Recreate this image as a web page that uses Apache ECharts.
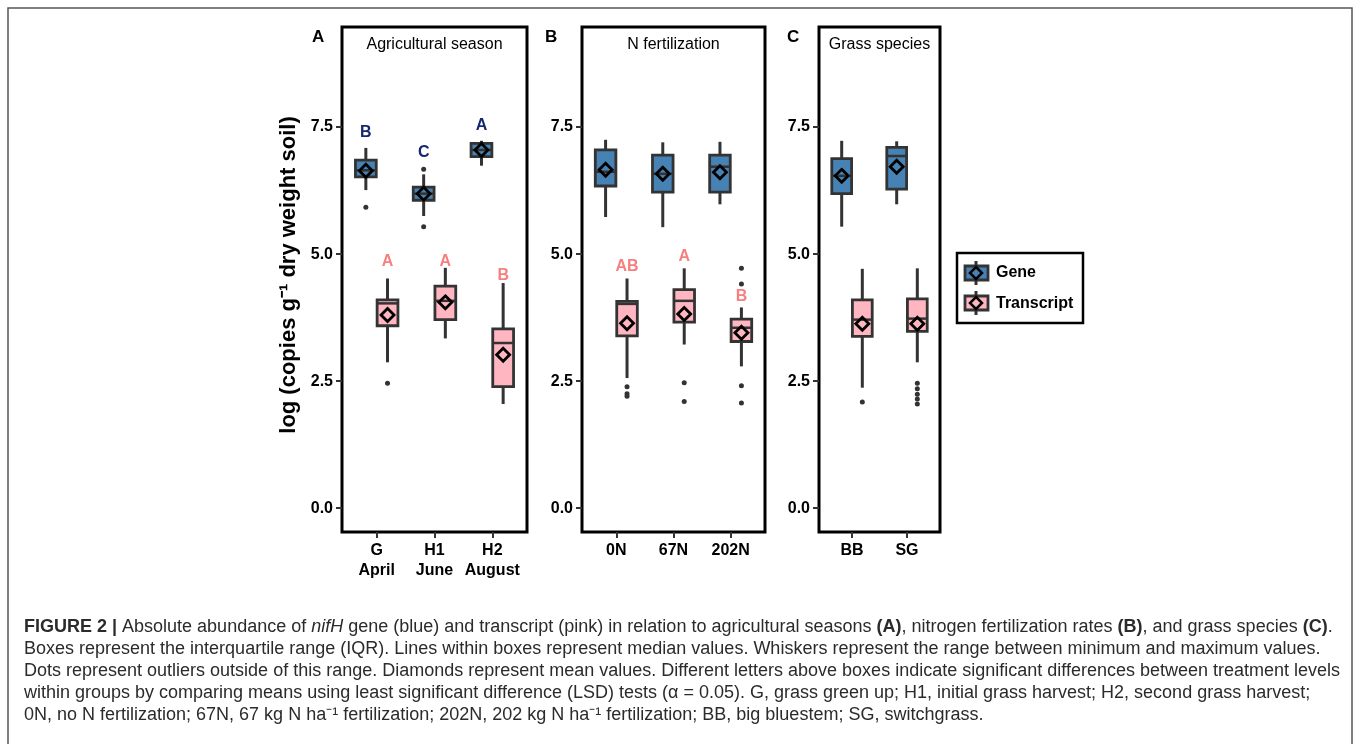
<!DOCTYPE html>
<html>
<head>
<meta charset="utf-8">
<script src="https://cdn.jsdelivr.net/npm/echarts@6/dist/echarts.min.js"></script>
<style>
  html, body { margin: 0; padding: 0; background: #fff; }
  #chart { width: 1358px; height: 744px; }
</style>
</head>
<body>
<div id="chart"></div>
<script>
// ---- data ----------------------------------------------------------------
// box rows: [lower whisker, Q1, median, Q3, upper whisker]
const seasonCats = ["G\nApril", "H1\nJune", "H2\nAugust"];
const seasonGene = [[6.26, 6.52, 6.65, 6.85, 7.09], [5.75, 6.06, 6.19, 6.32, 6.57], [6.74, 6.92, 7.05, 7.18, 7.23]];
const seasonGeneMean = [6.64, 6.19, 7.05];
const seasonGeneOut = [[0, 5.92], [1, 6.67], [1, 5.54]];
const seasonTrans = [[2.87, 3.59, 4.03, 4.10, 4.52], [3.34, 3.71, 4.08, 4.37, 4.73], [2.05, 2.39, 3.25, 3.53, 4.43]];
const seasonTransMean = [3.80, 4.05, 3.02];
const seasonTransOut = [[0, 2.46]];
const seasonGeneLetters = [["B", 7.40], ["C", 6.99], ["A", 7.52]];
const seasonTransLetters = [["A", 4.86], ["A", 4.86], ["B", 4.58]];

const nCats = ["0N", "67N", "202N"];
const nGene = [[5.73, 6.34, 6.62, 7.05, 7.25], [5.53, 6.22, 6.58, 6.95, 7.20], [5.98, 6.22, 6.72, 6.95, 7.21]];
const nGeneMean = [6.66, 6.58, 6.61];
const nGeneOut = [];
const nTrans = [[2.56, 3.39, 4.02, 4.07, 4.52], [3.22, 3.66, 4.08, 4.30, 4.72], [2.79, 3.28, 3.55, 3.72, 3.95]];
const nTransMean = [3.64, 3.82, 3.45];
const nTransOut = [[0, 2.39], [0, 2.25], [0, 2.20], [1, 2.47], [1, 2.10], [2, 4.72], [2, 4.41], [2, 2.41], [2, 2.07]];
const nGeneLetters = [];
const nTransLetters = [["AB", 4.76], ["A", 4.95], ["B", 4.16]];

const grassCats = ["BB", "SG"];
const grassGene = [[5.54, 6.19, 6.54, 6.88, 7.23], [5.98, 6.28, 6.93, 7.10, 7.22]];
const grassGeneMean = [6.54, 6.72];
const grassGeneOut = [];
const grassTrans = [[2.37, 3.38, 3.71, 4.10, 4.71], [2.87, 3.48, 3.73, 4.12, 4.72]];
const grassTransMean = [3.63, 3.63];
const grassTransOut = [[0, 2.09], [1, 2.46], [1, 2.35], [1, 2.24], [1, 2.15], [1, 2.05]];
const grassGeneLetters = [];
const grassTransLetters = [];

const yTicks = [0, 2.5, 5, 7.5];

// ---- styling -------------------------------------------------------------
const GENE = "#4682b4";
const TRANS = "#ffb6c1";
const EDGE = "#333333";
const NAVY = "#14286e";
const SALMON = "#f77f7f";
const FONT = "Liberation Sans, Arial, sans-serif";
const BOX_W = 0.36;
const DODGE = 0.1875;

const panels = [
  { label: "A", labelX: 312, strip: "Agricultural season", cats: seasonCats, left: 342, width: 185,
    gene: seasonGene, geneMean: seasonGeneMean, geneOut: seasonGeneOut, geneLetters: seasonGeneLetters,
    trans: seasonTrans, transMean: seasonTransMean, transOut: seasonTransOut, transLetters: seasonTransLetters },
  { label: "B", labelX: 545, strip: "N fertilization", cats: nCats, left: 582, width: 183,
    gene: nGene, geneMean: nGeneMean, geneOut: nGeneOut, geneLetters: nGeneLetters,
    trans: nTrans, transMean: nTransMean, transOut: nTransOut, transLetters: nTransLetters },
  { label: "C", labelX: 787, strip: "Grass species", cats: grassCats, left: 819, width: 121,
    gene: grassGene, geneMean: grassGeneMean, geneOut: grassGeneOut, geneLetters: grassGeneLetters,
    trans: grassTrans, transMean: grassTransMean, transOut: grassTransOut, transLetters: grassTransLetters }
];
const TOP = 27, HEIGHT = 505;

function renderBox(params, api){
  const x = api.value(0);
  const lo = api.coord([x, api.value(1)]);
  const q1 = api.coord([x, api.value(2)]);
  const med = api.coord([x, api.value(3)]);
  const q3 = api.coord([x, api.value(4)]);
  const hi = api.coord([x, api.value(5)]);
  const w = api.size([BOX_W, 0])[0];
  const fill = api.visual("color");
  const cx = lo[0];
  return {
    type: "group",
    children: [
      { type: "line", shape: { x1: cx, y1: hi[1], x2: cx, y2: lo[1] },
        style: { stroke: EDGE, lineWidth: 3 } },
      { type: "rect", shape: { x: cx - w / 2, y: q3[1], width: w, height: q1[1] - q3[1] },
        style: { fill, stroke: EDGE, lineWidth: 2.8 } },
      { type: "line", shape: { x1: cx - w / 2, y1: med[1], x2: cx + w / 2, y2: med[1] },
        style: { stroke: EDGE, lineWidth: 2.5 } }
    ]
  };
}

const grid = [], xAxis = [], yAxis = [], series = [], graphic = [];

panels.forEach((p, i) => {
  grid.push({ left: p.left, top: TOP, width: p.width, height: HEIGHT,
    show: true, borderColor: "#000", borderWidth: 3, backgroundColor: "#fff" });
  xAxis.push({
    type: "value", gridIndex: i, min: 0.4, max: p.cats.length + 0.6, position: "bottom",
    axisLine: { show: false, onZero: false },
    splitLine: { show: false },
    axisTick: { show: true, inside: false, customValues: p.cats.map((c, k) => k + 1), length: 6,
      lineStyle: { color: EDGE, width: 2 } },
    axisLabel: { customValues: p.cats.map((c, k) => k + 1), margin: 9,
      formatter: (v) => p.cats[Math.round(v) - 1] || "",
      color: "#000", fontFamily: FONT, fontWeight: "bold", fontSize: 16, lineHeight: 20 },
    z: 10
  });
  yAxis.push({
    type: "value", gridIndex: i, min: -0.47, max: 9.47,
    axisLine: { show: false, onZero: false },
    splitLine: { show: false },
    axisTick: { show: true, customValues: yTicks, length: 6, lineStyle: { color: EDGE, width: 2 } },
    axisLabel: { customValues: yTicks, margin: 9, formatter: (v) => v.toFixed(1),
      color: "#000", fontFamily: FONT, fontWeight: "bold", fontSize: 16 },
    z: 10
  });

  [["gene", -DODGE, GENE, NAVY], ["trans", DODGE, TRANS, SALMON]].forEach(([key, off, color, letterColor]) => {
    series.push({
      type: "custom", xAxisIndex: i, yAxisIndex: i, z: 2,
      itemStyle: { color },
      renderItem: renderBox,
      encode: { x: 0, y: [1, 2, 3, 4, 5] },
      data: p[key].map((b, k) => [k + 1 + off, ...b])
    });
    series.push({
      type: "scatter", xAxisIndex: i, yAxisIndex: i, z: 3,
      symbol: "circle", symbolSize: 5, itemStyle: { color: EDGE, opacity: 1 },
      data: p[key + "Out"].map(([k, v]) => [k + 1 + off, v])
    });
    series.push({
      type: "scatter", xAxisIndex: i, yAxisIndex: i, z: 4,
      symbol: "diamond", symbolSize: [13, 13],
      itemStyle: { color: "rgba(0,0,0,0)", borderColor: "#000", borderWidth: 2.8, opacity: 1 },
      data: p[key + "Mean"].map((v, k) => [k + 1 + off, v])
    });
    series.push({
      type: "scatter", xAxisIndex: i, yAxisIndex: i, z: 5, symbolSize: 0, silent: true,
      itemStyle: { opacity: 1 },
      label: { show: true, position: "inside", formatter: (d) => d.value[2],
        color: letterColor, fontFamily: FONT, fontWeight: "bold", fontSize: 16 },
      data: p[key + "Letters"].map(([t, v], k) => [k + 1 + off, v, t])
    });
  });

  graphic.push({ type: "text", left: p.labelX, top: 29,
    style: { text: p.label, font: "bold 17px " + FONT, fill: "#000" } });
  graphic.push({ type: "text", x: p.left + p.width / 2, y: 45,
    style: { text: p.strip, font: "16px " + FONT, fill: "#000", align: "center", verticalAlign: "middle" } });
});

// outer figure frame
graphic.push({ type: "rect", z: -10, shape: { x: 8, y: 8, width: 1344, height: 760 },
  style: { fill: "none", stroke: "#555", lineWidth: 1.5 } });

// y axis title
graphic.push({ type: "text", x: 289, y: 275, rotation: Math.PI / 2,
  style: { text: "log (copies g\u207B\u00B9 dry weight soil)", font: "bold 22px " + FONT, fill: "#000",
    align: "center", verticalAlign: "middle" } });

// legend
function legendKey(y, fill){
  return [
    { type: "line", shape: { x1: 976, y1: y - 12, x2: 976, y2: y + 12 }, style: { stroke: EDGE, lineWidth: 3 } },
    { type: "rect", shape: { x: 965, y: y - 7, width: 23, height: 14 }, style: { fill, stroke: EDGE, lineWidth: 2.8 } },
    { type: "polygon", shape: { points: [[976, y - 6], [982, y], [976, y + 6], [970, y]] },
      style: { fill: "none", stroke: "#000", lineWidth: 2.5 } }
  ];
}
graphic.push({
  type: "group",
  children: [
    { type: "rect", shape: { x: 957, y: 253, width: 126, height: 70 }, style: { fill: "#fff", stroke: "#000", lineWidth: 2.5 } },
    ...legendKey(273, GENE),
    ...legendKey(303, TRANS),
    { type: "text", x: 996, y: 273, style: { text: "Gene", font: "bold 16px " + FONT, fill: "#000", verticalAlign: "middle" } },
    { type: "text", x: 996, y: 304, style: { text: "Transcript", font: "bold 16px " + FONT, fill: "#000", verticalAlign: "middle" } }
  ]
});

// caption
const captionLines = [
  "{b|FIGURE 2 |} Absolute abundance of {i|nifH} gene (blue) and transcript (pink) in relation to agricultural seasons {b|(A)}, nitrogen fertilization rates {b|(B)}, and grass species {b|(C)}.",
  "Boxes represent the interquartile range (IQR). Lines within boxes represent median values. Whiskers represent the range between minimum and maximum values.",
  "Dots represent outliers outside of this range. Diamonds represent mean values. Different letters above boxes indicate significant differences between treatment levels",
  "within groups by comparing means using least significant difference (LSD) tests (\u03B1 = 0.05). G, grass green up; H1, initial grass harvest; H2, second grass harvest;",
  "0N, no N fertilization; 67N, 67 kg N ha\u207B\u00B9 fertilization; 202N, 202 kg N ha\u207B\u00B9 fertilization; BB, big bluestem; SG, switchgrass."
];
const capFont = "Liberation Sans, Arial, sans-serif";
const capSize = 18;
captionLines.forEach((t, k) => {
  graphic.push({ type: "text", x: 24, y: 627 + k * 22,
    style: { text: t, fontFamily: capFont, fontSize: capSize, fill: "#2b2b2b", verticalAlign: "middle",
      rich: {
        b: { fontFamily: capFont, fontSize: capSize, fontWeight: "bold", fill: "#2b2b2b" },
        i: { fontFamily: capFont, fontSize: capSize, fontStyle: "italic", fill: "#2b2b2b" }
      } } });
});

const chart = echarts.init(document.getElementById("chart"), null, { renderer: "canvas" });
chart.setOption({
  animation: false,
  backgroundColor: "#fff",
  grid, xAxis, yAxis, series, graphic
});
</script>
</body>
</html>
